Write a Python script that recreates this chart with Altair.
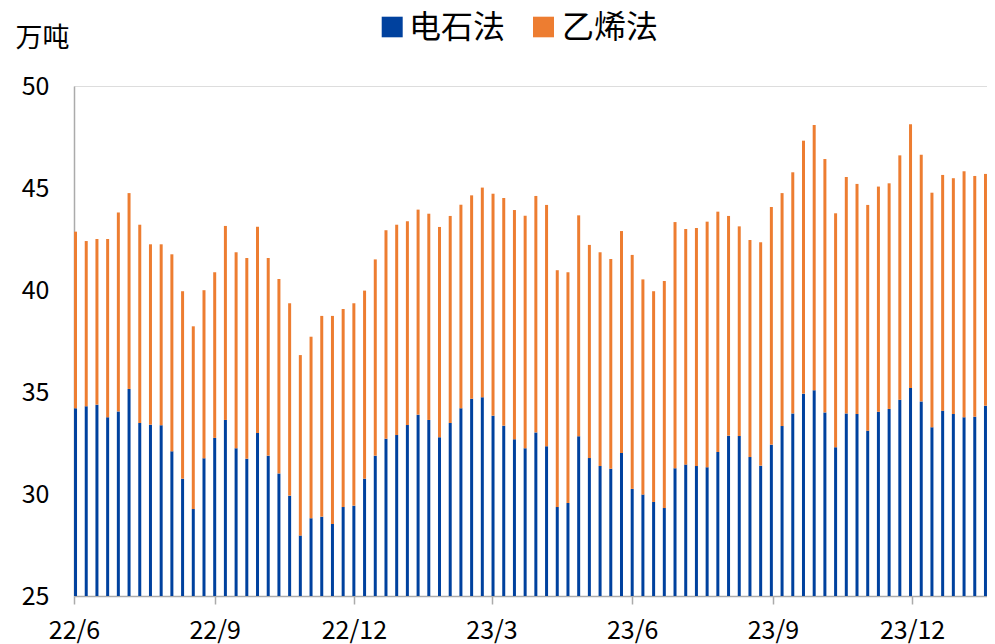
import altair as alt
import pandas as pd

FONT = "Noto Sans CJK SC"

# weekly dates (x categories)
weeks = [d.strftime("%Y-%m-%d") for d in pd.date_range("2022-06-02", periods=86, freq="7D")]

# 电石法 weekly output (万吨)
calcium = [
    34.20, 34.30, 34.38, 33.76, 34.05, 35.15, 33.48, 33.40, 33.37, 32.09,
    30.75, 29.26, 31.75, 32.75, 33.63, 32.24, 31.73, 32.99, 31.88, 31.01,
    29.92, 27.96, 28.81, 28.89, 28.53, 29.36, 29.43, 30.75, 31.88, 32.71,
    32.89, 33.38, 33.89, 33.63, 32.78, 33.48, 34.20, 34.67, 34.74, 33.84,
    33.35, 32.68, 32.24, 33.02, 32.34, 29.36, 29.56, 32.83, 31.76, 31.37,
    31.24, 32.01, 30.25, 29.97, 29.61, 29.31, 31.26, 31.44, 31.37, 31.31,
    32.06, 32.86, 32.84, 31.81, 31.39, 32.42, 33.33, 33.95, 34.92, 35.08,
    34.00, 32.29, 33.95, 33.92, 33.10, 34.03, 34.17, 34.62, 35.20, 34.54,
    33.27, 34.08, 33.92, 33.76, 33.79, 34.33,
]

# 乙烯法 weekly output (万吨)
ethylene = [
    8.66, 8.10, 8.12, 8.74, 9.75, 9.60, 9.72, 8.84, 8.87, 9.66,
    9.19, 8.96, 8.24, 8.12, 9.51, 9.61, 9.84, 10.11, 9.69, 9.53,
    9.43, 8.85, 8.90, 9.84, 10.20, 9.71, 9.92, 9.22, 9.62, 10.22,
    10.31, 9.99, 10.05, 10.11, 10.31, 10.15, 9.98, 9.97, 10.28, 10.88,
    11.16, 11.24, 11.40, 11.59, 11.83, 11.61, 11.31, 10.83, 10.45, 10.48,
    10.28, 10.88, 11.47, 10.55, 10.33, 11.13, 12.07, 11.55, 11.67, 12.04,
    11.78, 10.77, 10.28, 10.64, 10.95, 11.65, 11.42, 11.82, 12.40, 13.01,
    12.42, 11.47, 11.59, 11.28, 11.07, 11.04, 11.06, 11.98, 12.92, 12.09,
    11.50, 11.56, 11.56, 12.06, 11.80, 11.36,
]

series_names = ["电石法", "乙烯法"]
colors = ["#00419E", "#ED7D31"]
y_ticks = [25, 30, 35, 40, 45, 50]
month_ticks = [(2022, 6), (2022, 9), (2022, 12), (2023, 3), (2023, 6), (2023, 9), (2023, 12)]

rows = []
for i, w in enumerate(weeks):
    rows.append({"week": w, "series": series_names[0], "value": calcium[i], "k": 0})
    rows.append({"week": w, "series": series_names[1], "value": ethylene[i], "k": 1})
df = pd.DataFrame(rows)

x_values = [alt.DateTime(year=y, month=m, date=1, utc=True) for y, m in month_ticks]
x_domain = [alt.DateTime(year=2022, month=6, date=1, utc=True),
            alt.DateTime(year=2024, month=1, date=19, utc=True)]

bars = alt.Chart(df).mark_bar(size=3, clip=True).encode(
    x=alt.X(
        "week:T",
        scale=alt.Scale(type="utc", domain=x_domain, padding=0, nice=False),
        axis=alt.Axis(
            values=x_values,
            labelExpr="utcFormat(datum.value, '%y') + '/' + (utcmonth(datum.value) + 1)",
            title=None,
            grid=False, domainColor="#ABABAB", domainWidth=1.5,
            tickColor="#ABABAB", tickWidth=1.5, tickSize=8,
            labelFontSize=25, labelFont=FONT, labelColor="black",
            labelPadding=14, labelFlush=False, labelOverlap=False,
        ),
    ),
    y=alt.Y(
        "value:Q",
        stack="zero",
        scale=alt.Scale(domain=[25, 50], nice=False, zero=False, padding=0),
        axis=alt.Axis(
            values=y_ticks, grid=False, ticks=False, tickSize=0,
            domainColor="#ABABAB", domainWidth=1.5,
            labelFontSize=25, labelFont=FONT, labelColor="black", labelPadding=25,
            title="万吨", titleAngle=0, titleAlign="left", titleBaseline="middle",
            titleX=-59, titleY=-48, titleFontSize=27, titleFontWeight="normal",
            titleFont=FONT, titleColor="black",
        ),
    ),
    color=alt.Color(
        "series:N",
        scale=alt.Scale(domain=series_names, range=colors),
        legend=None,
    ),
    order=alt.Order("k:Q", sort="ascending"),
)

# hand-placed legend (square swatch + label for each series)
legend_layers = []
for name, col, sx, tx in zip(series_names, colors, [307.7, 459.0], [335.0, 488.0]):
    one = pd.DataFrame({"name": [name]})
    legend_layers.append(
        alt.Chart(one).mark_rect(color=col).encode(
            x=alt.value(sx), x2=alt.value(sx + 21),
            y=alt.value(-69.3), y2=alt.value(-48.7),
        )
    )
    legend_layers.append(
        alt.Chart(one).mark_text(
            align="left", baseline="middle", fontSize=32, font=FONT, color="black"
        ).encode(x=alt.value(tx), y=alt.value(-58.5), text="name:N")
    )

chart = alt.layer(bars, *legend_layers).properties(
    width=913,
    height=510,
    autosize=alt.AutoSizeParams(type="none"),
    padding={"left": 66, "top": 78, "right": 0, "bottom": 48},
).configure_view(stroke=None).configure(font=FONT)

chart.save("out.html", embed_options={"renderer": "svg", "actions": False})
